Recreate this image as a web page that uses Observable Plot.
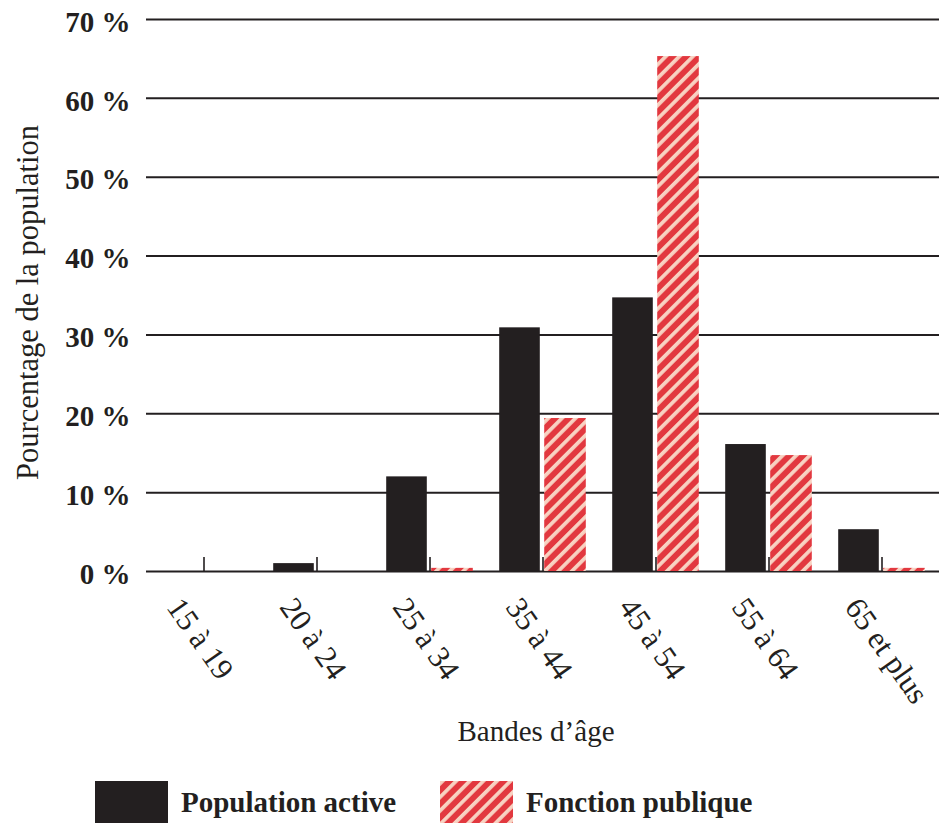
<!DOCTYPE html>
<html>
<head>
<meta charset="utf-8">
<script src="https://cdn.jsdelivr.net/npm/d3@7"></script>
<script src="https://cdn.jsdelivr.net/npm/@observablehq/plot@0.6"></script>
<style>
  html, body { margin: 0; padding: 0; background: #fff; }
  #chart { width: 947px; font-family: "Liberation Serif", "DejaVu Serif", serif; color: #231f20; }
  .legend { position: relative; margin-top: 11px; height: 42px; }
  .legend .item { position: absolute; top: 0; display: flex; align-items: center; font-weight: bold; font-size: 29px; height: 42px; }
  .legend .sw { width: 73px; height: 42px; margin-right: 13px; display: block; }
</style>
</head>
<body>
<div id="chart"></div>
<script>
const categories = ["15 à 19", "20 à 24", "25 à 34", "35 à 44", "45 à 54", "55 à 64", "65 et plus"];
const populationActive = [0, 1.0, 12.0, 30.9, 34.7, 16.1, 5.3];
const fonctionPublique = [0, 0, 0.4, 19.4, 65.3, 14.7, 0.4];
const yTicks = [0, 10, 20, 30, 40, 50, 60, 70];
const seriesNames = ["Population active", "Fonction publique"];
const yLabel = "Pourcentage de la population";
const xLabel = "Bandes d\u2019âge";

const ink = "#231f20";
const red = "#e2383f";
const pink = "#f8d2c2";
const activeData = categories.map((c, i) => ({cat: c, v: populationActive[i]}));
const publicData = categories.map((c, i) => ({cat: c, v: fonctionPublique[i]}));

function addHatch(svgNode, id) {
  const svg = d3.select(svgNode);
  const defs = svg.insert("defs", ":first-child");
  const pat = defs.append("pattern")
    .attr("id", id)
    .attr("patternUnits", "userSpaceOnUse")
    .attr("width", 9.6).attr("height", 9.6)
    .attr("patternTransform", "rotate(45)");
  pat.append("rect").attr("width", 9.6).attr("height", 9.6).attr("fill", red);
  pat.append("rect").attr("width", 3.7).attr("height", 9.6).attr("fill", pink);
}

const plot = Plot.plot({
  width: 947,
  height: 770,
  marginLeft: 146,
  marginRight: 8,
  marginTop: 19,
  marginBottom: 199,
  style: {fontFamily: "'Liberation Serif', 'DejaVu Serif', serif", fontSize: "28px", color: ink, background: "#fff"},
  x: {domain: categories, padding: 0},
  y: {domain: [0, 70]},
  marks: [
    Plot.ruleY(yTicks, {stroke: ink, strokeWidth: 2}),
    Plot.ruleX(categories, {x: d => d, y1: 0, y2: 0, insetTop: -14, stroke: ink, strokeWidth: 1.6}),
    Plot.barY(activeData, {x: "cat", y: "v", fill: ink, insetLeft: 13.2, insetRight: 59.2}),
    Plot.barY(publicData, {x: "cat", y: "v", fill: "url(#hatch)", insetLeft: 58.2, insetRight: 13.2}),
    Plot.axisY({ticks: yTicks, tickSize: 0, tickPadding: 16, tickFormat: d => d + "\u00a0%", fontWeight: "bold", fontSize: 29, dy: 3, label: null}),
    Plot.axisX({tickSize: 0, tickRotate: 55, tickPadding: 30, dx: -30, textAnchor: "start", lineAnchor: "middle", fontSize: 31, label: null}),
    Plot.text([yLabel], {text: d => d, frameAnchor: "left", rotate: -90, dx: -118, dy: 7, lineAnchor: "middle", textAnchor: "middle", fontSize: 30.5, fill: ink}),
    Plot.text([xLabel], {text: d => d, frameAnchor: "bottom", dx: -7, dy: 160, lineAnchor: "middle", textAnchor: "middle", fontSize: 29, fill: ink})
  ]
});
addHatch(plot, "hatch");

const chart = document.getElementById("chart");
chart.appendChild(plot);

const legend = document.createElement("div");
legend.className = "legend";
const legendLeft = [95, 440];
seriesNames.forEach((name, i) => {
  const item = document.createElement("div");
  item.className = "item";
  item.style.left = legendLeft[i] + "px";
  const sw = d3.create("svg").attr("class", "sw").attr("width", 73).attr("height", 42);
  if (i === 1) addHatch(sw.node(), "hatch-legend");
  sw.append("rect").attr("width", 73).attr("height", 42)
    .attr("fill", i === 0 ? ink : "url(#hatch-legend)");
  const label = document.createElement("span");
  label.textContent = name;
  item.appendChild(sw.node());
  item.appendChild(label);
  legend.appendChild(item);
});
chart.appendChild(legend);
</script>
</body>
</html>
